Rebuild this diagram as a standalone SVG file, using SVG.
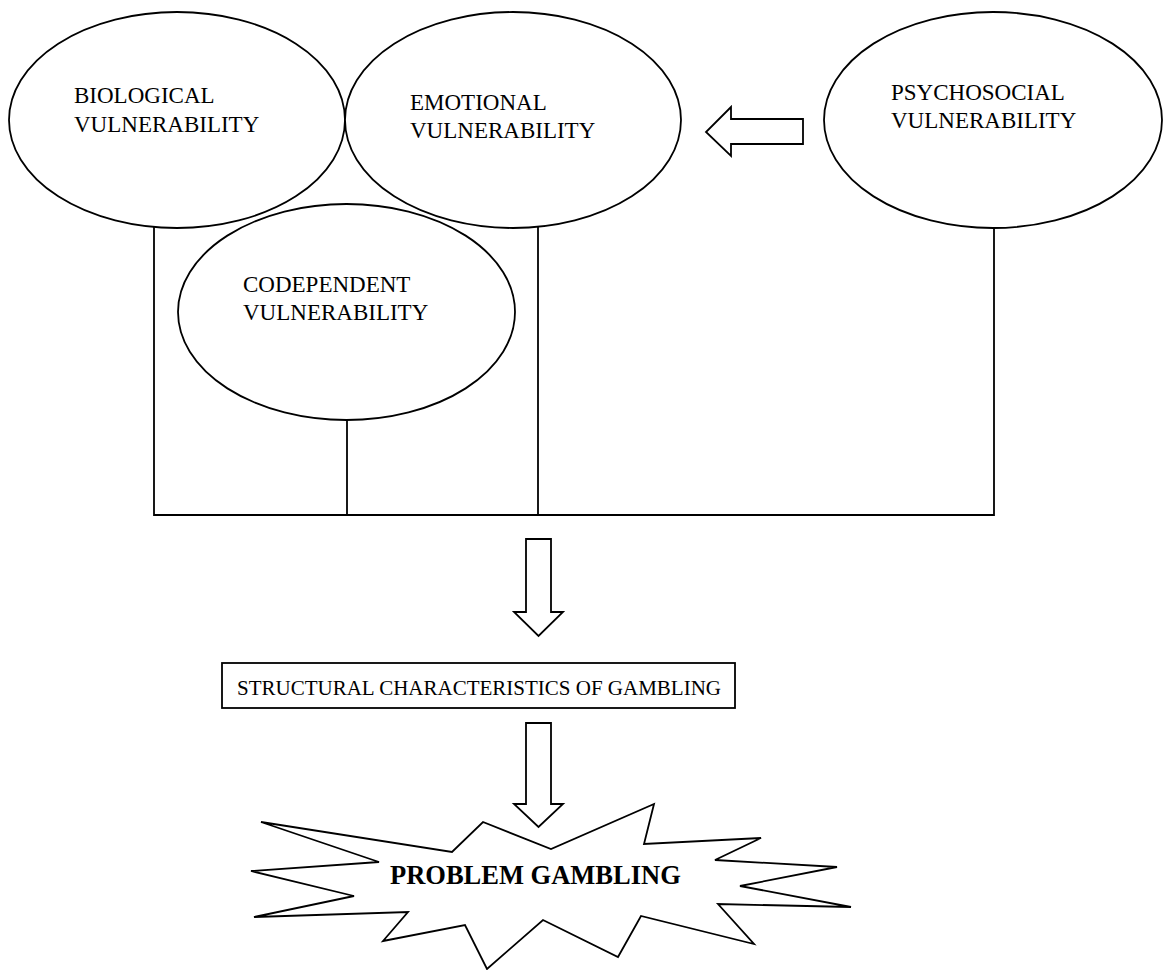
<svg xmlns="http://www.w3.org/2000/svg" width="1165" height="970" viewBox="0 0 1165 970">
  <style>
    .shape { fill: #ffffff; stroke: #000000; stroke-width: 1.8; }
    .line { fill: none; stroke: #000000; stroke-width: 1.8; }
    .label { font-family: "Liberation Serif", "Times New Roman", serif; font-size: 23px; fill: #000000; }
    .box-label { font-family: "Liberation Serif", "Times New Roman", serif; font-size: 22px; fill: #000000; }
    .burst-label { font-family: "Liberation Serif", "Times New Roman", serif; font-size: 26.5px; font-weight: bold; fill: #000000; }
  </style>
  <rect width="1165" height="970" fill="#ffffff"/>

  <!-- connectors: vertical drops into a shared baseline -->
  <g id="connectors">
    <polyline class="line" points="154,227 154,515 994,515 994,228"/>
    <line class="line" x1="538" y1="227" x2="538" y2="515"/>
    <line class="line" x1="347" y1="420" x2="347" y2="515"/>
  </g>

  <g id="biological">
    <ellipse class="shape" cx="177" cy="120" rx="168" ry="108"/>
    <text class="label" x="74" y="103">BIOLOGICAL</text>
    <text class="label" x="74" y="132">VULNERABILITY</text>
  </g>

  <g id="emotional">
    <ellipse class="shape" cx="513" cy="120" rx="168" ry="108"/>
    <text class="label" x="410" y="110">EMOTIONAL</text>
    <text class="label" x="410" y="138">VULNERABILITY</text>
  </g>

  <g id="codependent">
    <ellipse class="shape" cx="346.5" cy="312" rx="168.5" ry="108"/>
    <text class="label" x="243" y="292">CODEPENDENT</text>
    <text class="label" x="243" y="320">VULNERABILITY</text>
  </g>

  <g id="psychosocial">
    <ellipse class="shape" cx="993" cy="120" rx="169" ry="108"/>
    <text class="label" x="891" y="100">PSYCHOSOCIAL</text>
    <text class="label" x="891" y="128">VULNERABILITY</text>
  </g>

  <!-- block arrow pointing from psychosocial towards emotional -->
  <g id="arrow-left">
    <polygon class="shape" points="803,119 731,119 731,107 706,132 731,156 731,144 803,144"/>
  </g>

  <g id="arrow-down-1">
    <polygon class="shape" points="526,539 551,539 551,612 563,612 538.5,636 514,612 526,612"/>
  </g>

  <g id="structural">
    <rect class="shape" x="222" y="663" width="513" height="45"/>
    <text class="box-label" x="237" y="695" textLength="484" lengthAdjust="spacingAndGlyphs">STRUCTURAL CHARACTERISTICS OF GAMBLING</text>
  </g>

  <g id="arrow-down-2">
    <polygon class="shape" points="526,723 551,723 551,804 563,804 538.5,827 514,804 526,804"/>
  </g>

  <g id="problem-gambling">
    <polygon class="shape" points="261,822 452,852 483,822 551,849 654,804 644,844 761,838 715,860 837,867 740,886 851,907 718,904 754,944 641,916 618,957 543,920 487,969 465,925 383,941 408,912 254,917 354,896 251,871 379,862"/>
    <text class="burst-label" x="390" y="884">PROBLEM GAMBLING</text>
  </g>
</svg>
